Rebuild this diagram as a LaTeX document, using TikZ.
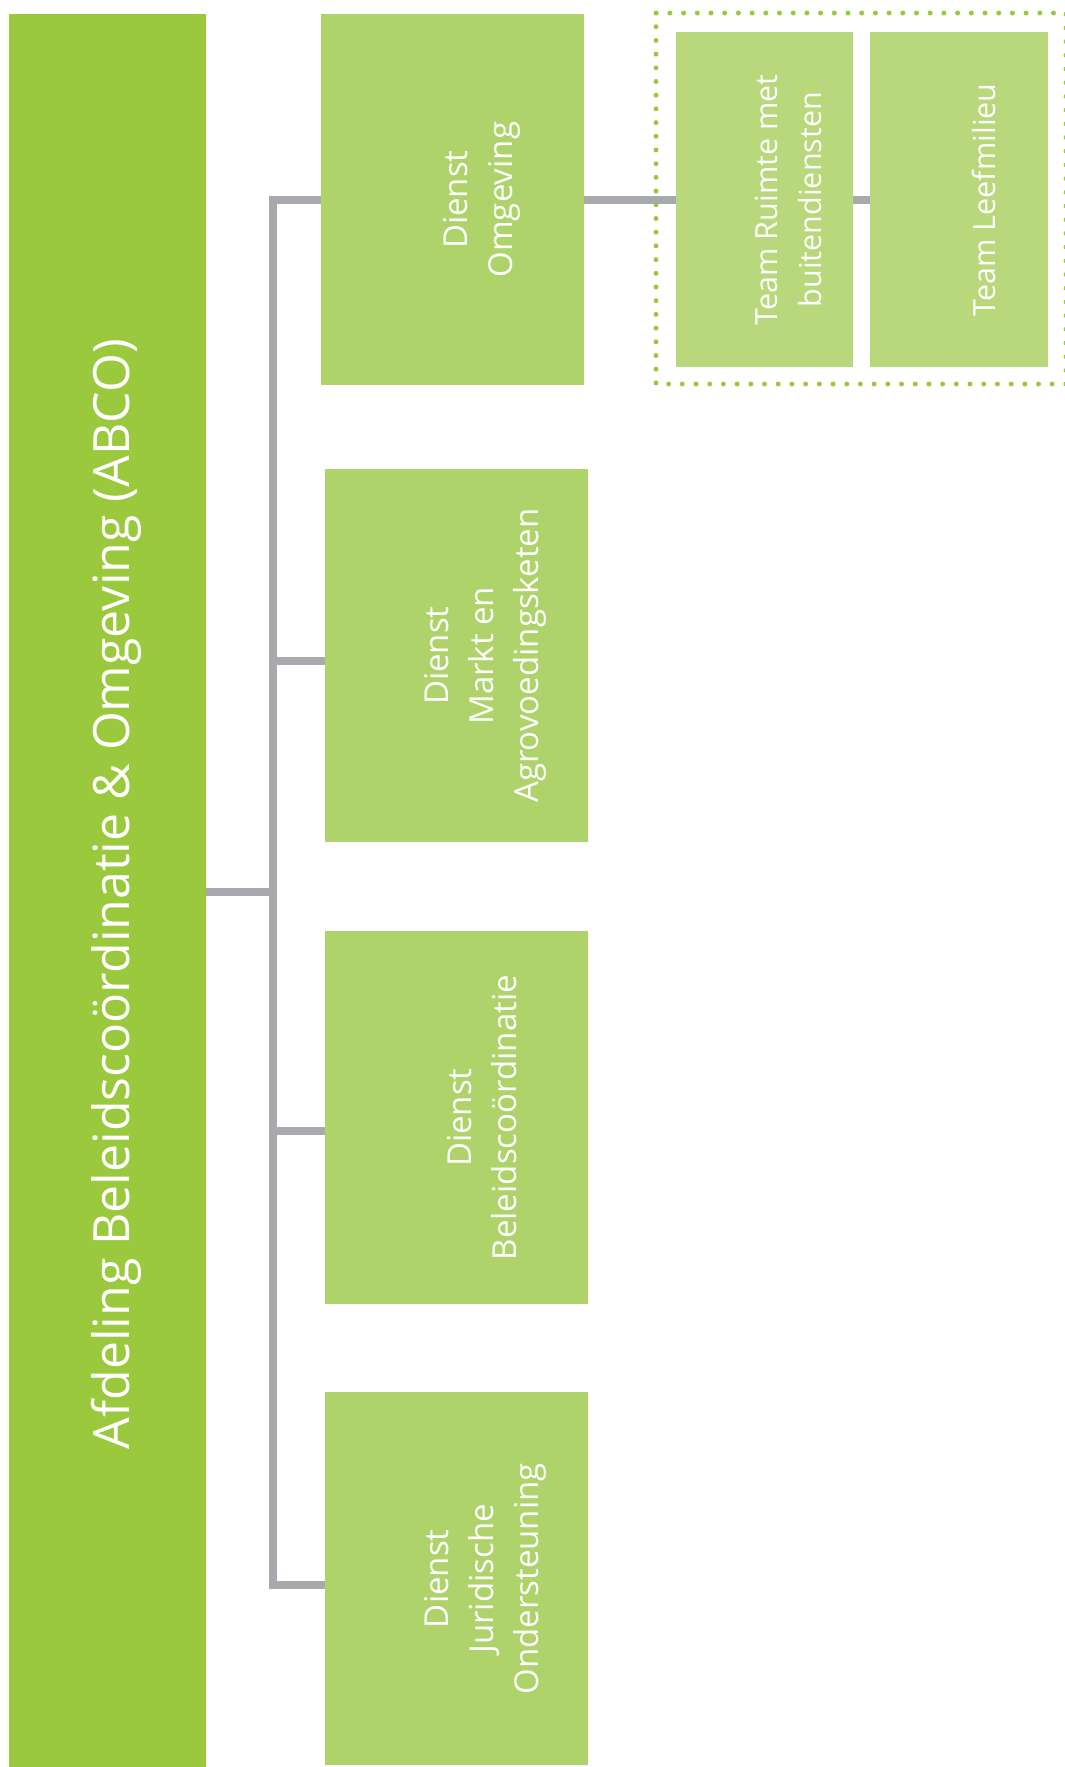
\documentclass[tikz,border=0pt]{standalone}
\usepackage{graphicx}
\usepackage{fontspec}
\setmainfont{Open Sans}
\definecolor{maingreen}{HTML}{9BC93D}
\definecolor{dienstgreen}{HTML}{AED36B}
\definecolor{teamgreen}{HTML}{B9D87C}
\definecolor{conngray}{HTML}{A7A9AC}
\begin{document}
\begin{tikzpicture}[x=1pt,y=-1pt,
  box/.style={fill=#1, draw=none, inner sep=0pt, text=white, anchor=north west},
  conn/.style={draw=conngray, line width=8pt, line join=miter, line cap=butt},
  dotframe/.style={draw=maingreen, line width=5pt, line cap=round, dash pattern=on 0pt off 13.7pt},
  big/.style={font=\fontsize{50}{60}\selectfont},
  mid/.style={font=\fontsize{33}{45}\selectfont},
  small/.style={font=\fontsize{30.5}{44}\selectfont}]
\useasboundingbox (0,0) rectangle (1065,1767);
% main box
\node[box=maingreen, minimum width=197pt, minimum height=1760pt, big] (main) at (9,14)
  {\hspace*{18pt}\rotatebox{90}{Afdeling Beleidscoördinatie \& Omgeving (ABCO)}};
% dienst boxes
\node[box=dienstgreen, minimum width=263pt, minimum height=371pt, mid] (omg) at (321,14)
  {\hspace*{56pt}\rotatebox{90}{\begin{tabular}{@{}c@{}}Dienst\\Omgeving\end{tabular}}};
\node[box=dienstgreen, minimum width=263pt, minimum height=373pt, mid] (markt) at (325,469)
  {\hspace*{56pt}\rotatebox{90}{\begin{tabular}{@{}c@{}}Dienst\\Markt en\\Agrovoedingsketen\end{tabular}}};
\node[box=dienstgreen, minimum width=263pt, minimum height=373pt, mid] (bel) at (325,931)
  {\hspace*{56pt}\rotatebox{90}{\begin{tabular}{@{}c@{}}Dienst\\Beleidscoördinatie\end{tabular}}};
\node[box=dienstgreen, minimum width=263pt, minimum height=373pt, mid] (jur) at (325,1392)
  {\hspace*{56pt}\rotatebox{90}{\begin{tabular}{@{}c@{}}Dienst\\Juridische\\Ondersteuning\end{tabular}}};
% dotted frame
\draw[dotframe] (656,13) rectangle (1066,384);
% team boxes
\node[box=teamgreen, minimum width=177pt, minimum height=335pt, small] (ruimte) at (676,32)
  {\hspace*{52pt}\rotatebox{90}{\begin{tabular}{@{}c@{}}Team Ruimte met\\buitendiensten\end{tabular}}};
\node[box=teamgreen, minimum width=178pt, minimum height=335pt, small] (leef) at (870,32)
  {\hspace*{50pt}\rotatebox{90}{Team Leefmilieu}};
% trunk
\coordinate (trunk) at (273,0);
\draw[conn] (omg.west) -- (omg.west -| trunk) -- ([yshift=-6pt]jur.west -| trunk) -- ([yshift=-6pt]jur.west);
\draw[conn] ([yshift=2pt]main.east) -- ([yshift=2pt]main.east -| trunk);
\draw[conn] ([yshift=-5pt]markt.west) -- ([yshift=-5pt]markt.west -| trunk);
\draw[conn] ([yshift=-13pt]bel.west) -- ([yshift=-13pt]bel.west -| trunk);
% team connectors
\draw[conn] (omg.east) -- (omg.east -| ruimte.west);
\draw[conn] (ruimte.east |- omg.east) -- (leef.west |- omg.east);
\end{tikzpicture}
\end{document}
